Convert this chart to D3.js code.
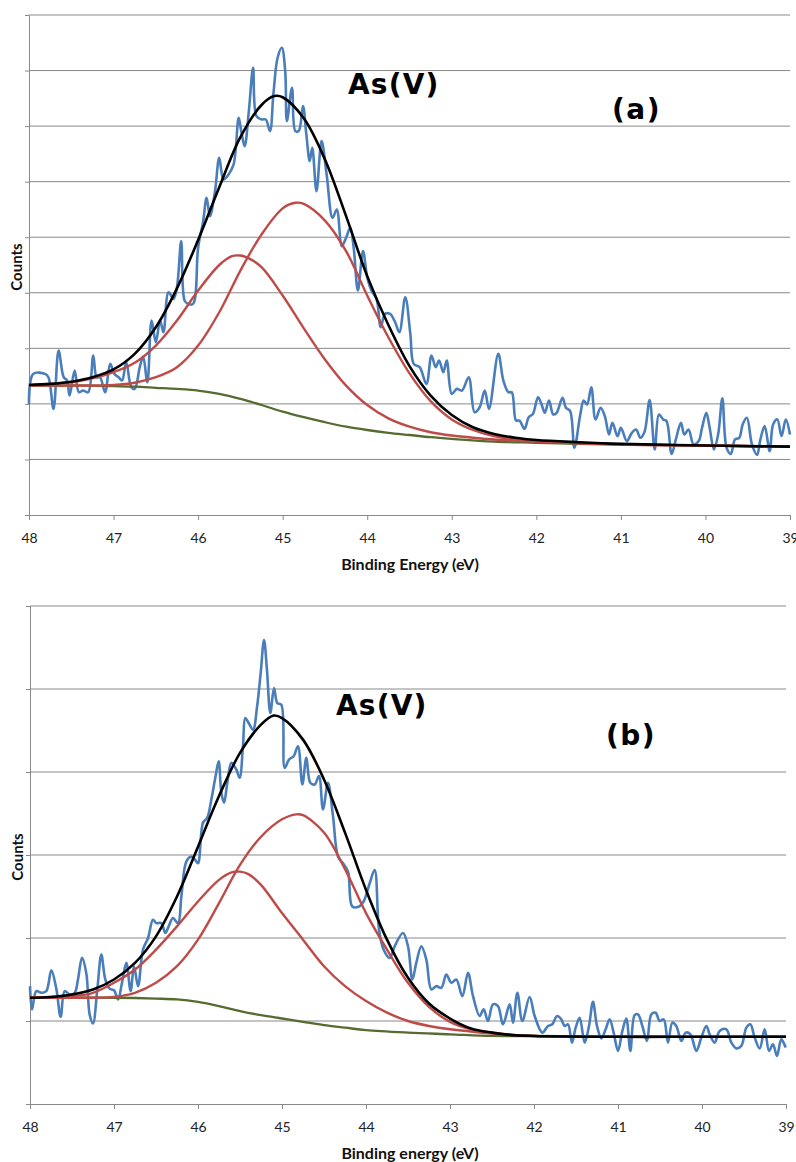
<!DOCTYPE html>
<html>
<head>
<meta charset="utf-8">
<script src="https://cdn.jsdelivr.net/npm/d3@7"></script>
<style>
  body { margin: 0; background: #fff; }
  svg { display: block; }
</style>
</head>
<body>
<div id="chart"></div>
<script>
// Binding energy ticks (eV), shared by both panels
const energyTicks = [48, 47, 46, 45, 44, 43, 42, 41, 40, 39];

// ---- panel (a) ---- [binding energy, counts (grid units)]
const rawA = [
  [48.00,2.00],[47.95,2.54],[47.81,2.54],[47.77,2.48],[47.71,1.91],[47.65,2.96],[47.59,2.48],[47.55,2.42],
  [47.52,2.15],[47.46,2.60],[47.41,2.21],[47.36,2.24],[47.30,2.21],[47.24,2.87],[47.20,2.48],[47.16,2.48],
  [47.10,2.21],[47.04,2.72],[46.99,2.54],[46.94,2.48],[46.90,2.42],[46.85,2.75],[46.79,2.30],[46.75,2.27],
  [46.69,2.66],[46.65,2.85],[46.60,2.39],[46.55,3.50],[46.50,3.11],[46.45,3.50],[46.41,3.29],[46.35,4.01],
  [46.29,3.89],[46.25,4.10],[46.20,4.93],[46.16,3.86],[46.12,3.80],[46.06,3.80],[46.00,4.81],[45.94,5.29],
  [45.90,5.71],[45.86,5.38],[45.80,5.83],[45.75,6.43],[45.70,6.04],[45.64,6.13],[45.58,6.31],[45.52,7.15],
  [45.49,6.91],[45.45,6.64],[45.40,7.27],[45.35,8.05],[45.31,7.18],[45.25,7.12],[45.20,7.12],[45.15,6.91],
  [45.11,7.57],[45.06,8.23],[45.01,8.41],[44.97,7.99],[44.95,7.09],[44.89,7.69],[44.85,6.91],[44.81,6.91],
  [44.76,7.36],[44.72,6.85],[44.68,6.37],[44.65,6.61],[44.60,5.83],[44.54,6.73],[44.48,6.13],[44.41,5.35],
  [44.36,5.50],[44.30,4.84],[44.25,4.99],[44.20,5.17],[44.16,4.81],[44.11,4.04],[44.05,4.75],[44.00,4.28],
  [43.95,4.04],[43.89,3.89],[43.84,3.38],[43.79,3.62],[43.73,3.62],[43.67,3.47],[43.62,3.29],[43.55,3.92],
  [43.49,3.26],[43.45,2.72],[43.38,2.66],[43.30,2.36],[43.24,2.87],[43.19,2.66],[43.15,2.78],[43.10,2.57],
  [43.06,2.78],[43.00,2.18],[42.94,2.27],[42.88,2.24],[42.80,2.48],[42.73,1.85],[42.67,1.94],[42.61,2.24],
  [42.56,1.91],[42.45,2.90],[42.39,2.42],[42.33,2.21],[42.29,2.21],[42.24,1.70],[42.20,1.70],[42.14,1.55],
  [42.09,1.76],[42.04,1.82],[41.98,2.12],[41.94,2.00],[41.90,1.84],[41.85,2.06],[41.80,1.81],[41.76,1.84],
  [41.69,2.11],[41.65,1.93],[41.60,1.87],[41.55,1.21],[41.48,1.81],[41.44,2.06],[41.40,1.99],[41.35,2.30],
  [41.30,1.72],[41.24,1.93],[41.19,1.78],[41.14,1.45],[41.10,1.66],[41.04,1.42],[41.00,1.57],[40.93,1.33],
  [40.87,1.48],[40.82,1.54],[40.77,1.39],[40.72,1.50],[40.66,2.07],[40.60,1.18],[40.55,1.81],[40.50,1.72],
  [40.46,1.69],[40.40,1.10],[40.35,1.36],[40.29,1.66],[40.25,1.45],[40.20,1.54],[40.14,1.27],[40.08,1.33],
  [40.04,1.57],[39.99,1.84],[39.95,1.57],[39.90,1.18],[39.85,1.45],[39.80,2.10],[39.75,1.21],[39.70,1.10],
  [39.65,1.36],[39.60,1.39],[39.56,1.63],[39.51,1.75],[39.45,1.27],[39.39,1.08],[39.35,1.36],[39.30,1.60],
  [39.24,1.15],[39.20,1.63],[39.15,1.72],[39.10,1.42],[39.05,1.72],[39.00,1.45]
];
const fitA = [
  [48,2.34],[47.75,2.36],[47.5,2.40],[47.25,2.48],[47,2.62],[46.75,2.90],[46.5,3.38],[46.25,4.08],
  [46,4.95],[45.75,5.90],[45.5,6.80],[45.25,7.38],[45.1,7.54],[45,7.52],[44.75,7.14],[44.5,6.40],
  [44.25,5.38],[44,4.30],[43.75,3.42],[43.5,2.68],[43.25,2.15],[43,1.80],[42.75,1.58],[42.5,1.46],
  [42.25,1.39],[42,1.35],[41.5,1.31],[41,1.28],[40,1.25],[39,1.23]
];
const peak1A = [
  [48,2.33],[47.5,2.33],[47,2.34],[46.75,2.38],[46.5,2.48],[46.25,2.66],[46,3.05],[45.75,3.65],
  [45.5,4.40],[45.25,5.05],[45,5.52],[44.85,5.62],[44.75,5.60],[44.5,5.30],[44.25,4.75],[44,3.95],
  [43.75,3.20],[43.5,2.55],[43.25,2.05],[43,1.72],[42.75,1.53],[42.5,1.42],[42.25,1.36],[42,1.33],
  [41.5,1.30],[41,1.27],[40,1.25],[39,1.23]
];
const peak2A = [
  [48,2.34],[47.75,2.36],[47.5,2.39],[47.25,2.46],[47,2.57],[46.75,2.74],[46.5,3.05],[46.25,3.50],
  [46,4.04],[45.75,4.50],[45.6,4.66],[45.5,4.67],[45.4,4.62],[45.25,4.46],[45,3.95],[44.75,3.36],
  [44.5,2.80],[44.25,2.33],[44,1.98],[43.75,1.74],[43.5,1.59],[43.25,1.49],[43,1.43],[42.75,1.39],
  [42.5,1.36],[42,1.32],[41.5,1.29],[41,1.27],[40,1.25],[39,1.23]
];
const bgA = [
  [48,2.33],[47.5,2.33],[47,2.32],[46.75,2.31],[46.5,2.29],[46.25,2.27],[46,2.24],[45.75,2.18],
  [45.5,2.09],[45.25,1.98],[45,1.86],[44.75,1.76],[44.5,1.67],[44.25,1.59],[44,1.53],[43.75,1.48],
  [43.5,1.44],[43.25,1.40],[43,1.37],[42.5,1.32],[42,1.30],[41.5,1.28],[41,1.27],[40,1.25],[39,1.23]
];

// ---- panel (b) ----
const rawB = [
  [48.000,1.42],[47.976,1.14],[47.925,1.36],[47.865,1.34],[47.806,1.36],[47.746,1.61],[47.687,1.39],[47.635,1.05],
  [47.587,1.36],[47.528,1.32],[47.468,1.34],[47.429,1.50],[47.381,1.76],[47.329,1.57],[47.290,1.08],[47.250,0.97],
  [47.198,1.39],[47.151,1.80],[47.103,1.50],[47.052,1.39],[47.000,1.37],[46.952,1.26],[46.905,1.46],[46.853,1.70],
  [46.802,1.36],[46.762,1.66],[46.714,1.42],[46.655,1.86],[46.595,2.00],[46.536,2.22],[46.496,2.18],[46.437,2.18],
  [46.389,2.06],[46.349,2.14],[46.298,2.24],[46.238,2.18],[46.198,2.50],[46.139,2.92],[46.079,2.98],[46.032,2.94],
  [46.000,2.90],[45.940,3.39],[45.889,3.45],[45.841,3.67],[45.794,3.93],[45.754,4.13],[45.722,3.75],[45.690,3.63],
  [45.651,3.87],[45.603,4.11],[45.544,4.03],[45.504,3.93],[45.464,4.33],[45.437,4.65],[45.397,4.59],[45.345,4.51],
  [45.294,4.81],[45.254,5.19],[45.214,5.59],[45.179,5.23],[45.139,4.71],[45.095,5.01],[45.056,4.83],[45.008,4.81],
  [44.968,4.05],[44.917,4.15],[44.861,4.19],[44.810,4.31],[44.758,3.85],[44.710,4.17],[44.663,3.87],[44.611,3.85],
  [44.560,3.95],[44.512,3.55],[44.452,3.87],[44.393,3.47],[44.333,2.98],[44.274,2.90],[44.214,2.80],[44.163,2.38],
  [44.083,2.38],[44.028,2.44],[43.956,2.66],[43.897,2.82],[43.845,2.10],[43.790,1.86],[43.718,1.76],[43.659,1.90],
  [43.560,2.06],[43.500,1.90],[43.448,1.50],[43.401,1.70],[43.341,1.90],[43.282,1.74],[43.222,1.38],[43.163,1.42],
  [43.103,1.40],[43.044,1.56],[42.984,1.46],[42.925,1.50],[42.853,1.30],[42.786,1.58],[42.726,1.30],[42.647,1.06],
  [42.599,1.14],[42.548,1.00],[42.488,1.20],[42.429,1.18],[42.369,0.96],[42.290,1.20],[42.250,0.98],[42.198,1.34],
  [42.139,1.00],[42.052,1.29],[41.992,1.06],[41.901,0.86],[41.833,0.94],[41.782,0.96],[41.726,1.06],[41.675,1.02],
  [41.635,0.94],[41.595,0.96],[41.548,0.74],[41.504,0.92],[41.456,1.04],[41.397,0.74],[41.345,0.94],[41.298,1.23],
  [41.250,0.94],[41.198,0.79],[41.147,0.90],[41.099,1.02],[41.052,0.86],[41.000,0.64],[40.948,0.88],[40.901,1.03],
  [40.853,0.64],[40.802,1.07],[40.762,1.08],[40.710,0.94],[40.655,0.76],[40.603,1.08],[40.552,1.10],[40.504,1.00],
  [40.456,1.02],[40.405,0.74],[40.353,0.98],[40.306,0.94],[40.246,0.76],[40.194,0.86],[40.139,0.84],[40.067,0.64],
  [40.008,0.80],[39.948,0.94],[39.909,0.84],[39.849,0.74],[39.790,0.88],[39.710,0.90],[39.651,0.74],[39.591,0.67],
  [39.532,0.70],[39.472,0.92],[39.425,0.96],[39.373,0.80],[39.313,0.67],[39.254,0.90],[39.202,0.64],[39.155,0.72],
  [39.107,0.58],[39.056,0.78],[39.004,0.68]
];
const fitB = [
  [48,1.28],[47.75,1.29],[47.5,1.32],[47.25,1.38],[47,1.50],[46.75,1.70],[46.5,2.02],[46.25,2.50],
  [46,3.10],[45.75,3.71],[45.5,4.23],[45.25,4.57],[45.1,4.68],[45,4.65],[44.75,4.39],[44.5,3.91],
  [44.25,3.27],[44,2.58],[43.75,1.98],[43.5,1.52],[43.25,1.21],[43,1.03],[42.75,0.91],[42.5,0.86],
  [42.25,0.83],[42,0.82],[41,0.81],[40,0.81],[39,0.81]
];
const peak1B = [
  [48,1.28],[47.5,1.28],[47.25,1.28],[47,1.29],[46.75,1.34],[46.5,1.46],[46.25,1.66],[46,1.98],
  [45.75,2.42],[45.5,2.88],[45.25,3.22],[45,3.43],[44.83,3.49],[44.75,3.48],[44.5,3.27],[44.25,2.83],
  [44,2.30],[43.75,1.86],[43.5,1.46],[43.25,1.17],[43,0.99],[42.75,0.90],[42.5,0.86],[42.25,0.83],
  [42,0.82],[41,0.81],[39,0.81]
];
const peak2B = [
  [48,1.28],[47.75,1.29],[47.5,1.30],[47.25,1.34],[47,1.46],[46.75,1.62],[46.5,1.86],[46.25,2.14],
  [46,2.44],[45.75,2.70],[45.6,2.79],[45.5,2.80],[45.4,2.77],[45.25,2.64],[45,2.30],[44.75,1.98],
  [44.5,1.66],[44.25,1.42],[44,1.24],[43.75,1.10],[43.5,1.00],[43.25,0.94],[43,0.90],[42.5,0.85],
  [42,0.82],[41,0.81],[39,0.81]
];
const bgB = [
  [48,1.28],[47.5,1.28],[47,1.28],[46.5,1.27],[46.25,1.26],[46,1.23],[45.75,1.18],[45.5,1.12],
  [45.25,1.07],[45,1.03],[44.75,0.99],[44.5,0.95],[44.25,0.92],[44,0.89],[43.5,0.86],[43,0.84],
  [42.5,0.82],[42,0.82],[41,0.81],[39,0.81]
];

const width = 796, height = 1162;
const colors = { raw: '#4a7ebb', peak: '#be4b48', bg: '#566b30', fit: '#000000', grid: '#898989' };

const panels = [
  { raw: rawA, fit: fitA, peaks: [peak1A, peak2A], bg: bgA, yMax: 9,
    left: 29, right: 790, top: 15, bottom: 515,
    xTitle: 'Binding Energy (eV)', tag: '(a)',
    species: { x: 348, y: 94 }, tagPos: { x: 612, y: 119 } },
  { raw: rawB, fit: fitB, peaks: [peak1B, peak2B], bg: bgB, yMax: 6,
    left: 30, right: 786, top: 606, bottom: 1104,
    xTitle: 'Binding energy (eV)', tag: '(b)',
    species: { x: 336, y: 715 }, tagPos: { x: 606, y: 745 } }
];

const svg = d3.select('#chart').append('svg')
  .attr('width', width)
  .attr('height', height);

panels.forEach(p => {
  const x = d3.scaleLinear().domain([48, 39]).range([p.left, p.right]);
  const y = d3.scaleLinear().domain([0, p.yMax]).range([p.bottom, p.top]);
  const g = svg.append('g');

  // horizontal gridlines
  g.append('g').selectAll('line')
    .data(d3.range(1, p.yMax + 1))
    .join('line')
    .attr('x1', p.left).attr('x2', p.right)
    .attr('y1', d => y(d)).attr('y2', d => y(d))
    .attr('stroke', colors.grid)
    .attr('stroke-width', 1);

  // y axis: ticks only, no labels
  const yAxis = g.append('g')
    .attr('transform', `translate(${p.left},0)`)
    .call(d3.axisLeft(y).tickValues(d3.range(0, p.yMax + 1)).tickSize(4).tickSizeOuter(0).tickFormat(''));
  yAxis.selectAll('path, line').attr('stroke', colors.grid);

  // x axis
  const xAxis = g.append('g')
    .attr('transform', `translate(0,${p.bottom})`)
    .call(d3.axisBottom(x).tickValues(energyTicks).tickSize(5).tickSizeOuter(0).tickPadding(13).tickFormat(d3.format('d')));
  xAxis.selectAll('path, line').attr('stroke', colors.grid);
  xAxis.selectAll('text')
    .attr('font-family', 'Lato, sans-serif')
    .attr('font-size', '14px')
    .attr('fill', '#222');

  // curves
  const smooth = d3.line().x(d => x(d[0])).y(d => y(d[1])).curve(d3.curveCatmullRom.alpha(0.5));

  g.append('path').datum(p.raw)
    .attr('d', smooth)
    .attr('fill', 'none').attr('stroke', colors.raw).attr('stroke-width', 2.6)
    .attr('stroke-linejoin', 'round');

  g.append('path').datum(p.bg)
    .attr('d', smooth)
    .attr('fill', 'none').attr('stroke', colors.bg).attr('stroke-width', 2.3);

  p.peaks.forEach(pk => {
    g.append('path').datum(pk)
      .attr('d', smooth)
      .attr('fill', 'none').attr('stroke', colors.peak).attr('stroke-width', 2.4);
  });

  g.append('path').datum(p.fit)
    .attr('d', smooth)
    .attr('fill', 'none').attr('stroke', colors.fit).attr('stroke-width', 2.6);

  // axis titles
  g.append('text')
    .attr('x', 410)
    .attr('y', p.bottom + 55)
    .attr('text-anchor', 'middle')
    .attr('font-family', 'Lato, sans-serif')
    .attr('font-weight', 'bold')
    .attr('font-size', '16px')
    .attr('fill', '#111')
    .text(p.xTitle);

  g.append('text')
    .attr('transform', `translate(${p.left - 7},${(p.top + p.bottom) / 2 + 2}) rotate(-90)`)
    .attr('text-anchor', 'middle')
    .attr('font-family', 'Lato, sans-serif')
    .attr('font-weight', 'bold')
    .attr('font-size', '15px')
    .attr('fill', '#111')
    .text('Counts');

  // annotations
  g.append('text')
    .attr('x', p.species.x).attr('y', p.species.y)
    .attr('font-family', 'DejaVu Sans, Verdana, sans-serif')
    .attr('font-weight', 'bold')
    .attr('font-size', '28px')
    .attr('letter-spacing', '1.2px')
    .text('As(V)');

  g.append('text')
    .attr('x', p.tagPos.x).attr('y', p.tagPos.y)
    .attr('font-family', 'DejaVu Sans, Verdana, sans-serif')
    .attr('font-weight', 'bold')
    .attr('font-size', '28px')
    .attr('letter-spacing', '1.5px')
    .text(p.tag);
});
</script>
</body>
</html>
